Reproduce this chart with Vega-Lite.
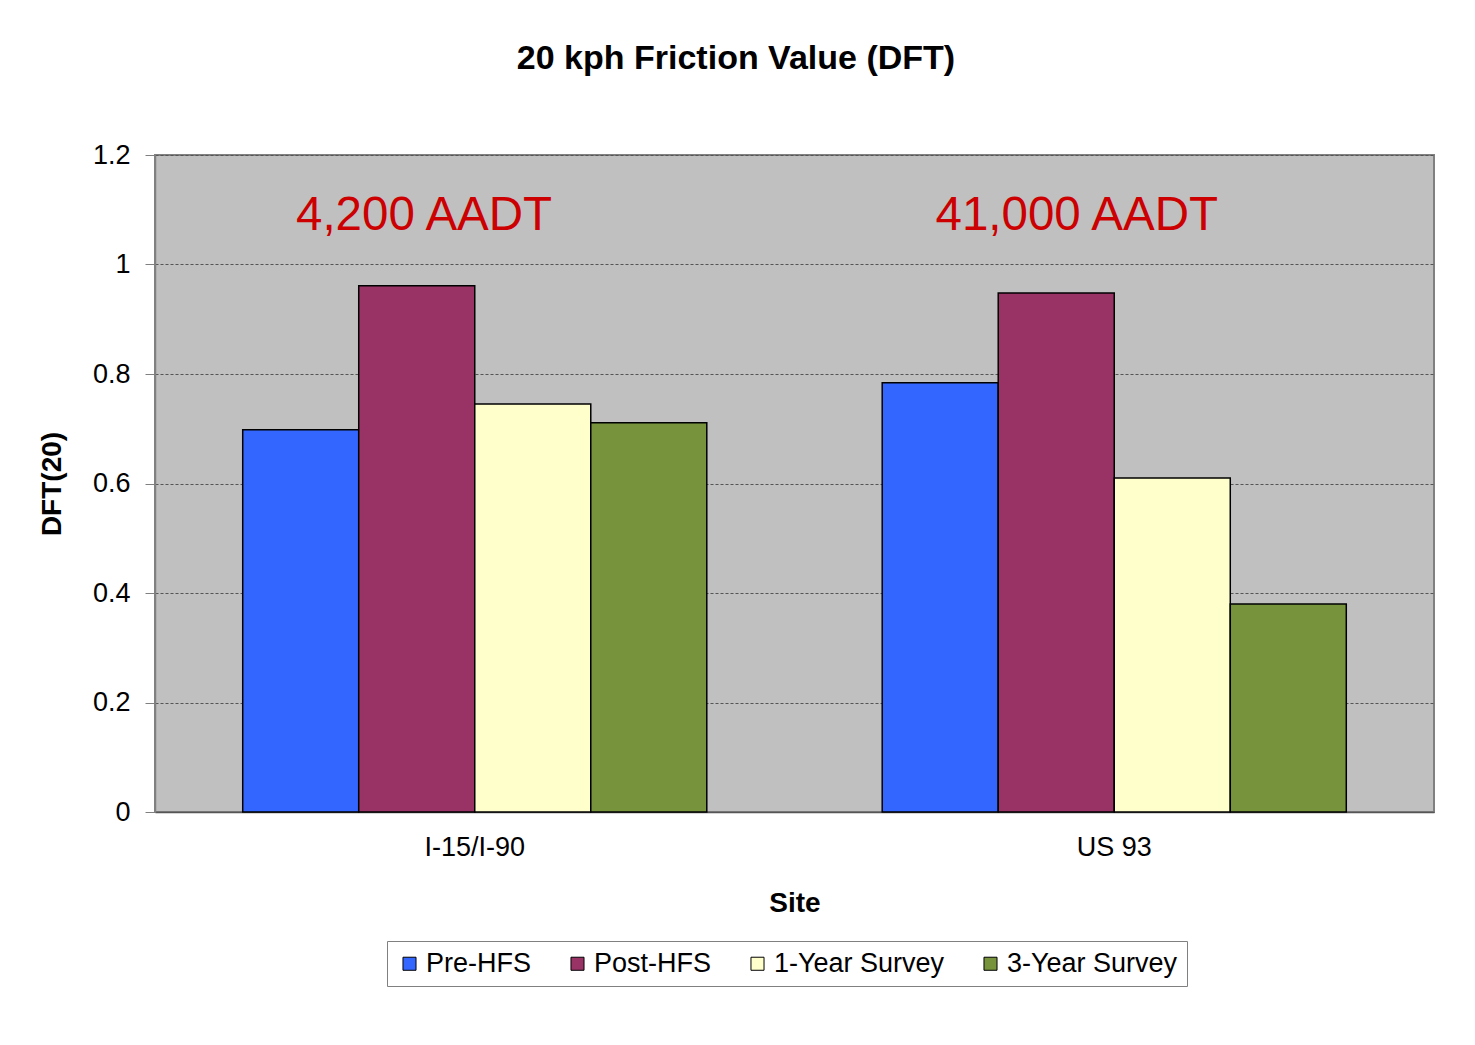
{
  "$schema": "https://vega.github.io/schema/vega-lite/v6.json",
  "width": 1279,
  "height": 657,
  "autosize": "none",
  "padding": {"left": 155, "top": 155, "right": 41, "bottom": 233},
  "background": "#FFFFFF",
  "title": {
    "text": "20 kph Friction Value (DFT)",
    "fontSize": 34,
    "fontWeight": "bold",
    "font": "Liberation Sans",
    "color": "#000000",
    "anchor": "middle",
    "frame": "bounds",
    "offset": 65
  },
  "config": {
    "font": "Liberation Sans",
    "view": {"fill": "#C0C0C0", "stroke": "#808080", "strokeWidth": 2}
  },
  "layer": [
    {
      "data": {
        "values": [
          {"Site": "I-15/I-90", "Survey": "Pre-HFS", "DFT": 0.698},
          {"Site": "I-15/I-90", "Survey": "Post-HFS", "DFT": 0.961},
          {"Site": "I-15/I-90", "Survey": "1-Year Survey", "DFT": 0.745},
          {"Site": "I-15/I-90", "Survey": "3-Year Survey", "DFT": 0.711},
          {"Site": "US 93", "Survey": "Pre-HFS", "DFT": 0.784},
          {"Site": "US 93", "Survey": "Post-HFS", "DFT": 0.948},
          {"Site": "US 93", "Survey": "1-Year Survey", "DFT": 0.61},
          {"Site": "US 93", "Survey": "3-Year Survey", "DFT": 0.38}
        ]
      },
      "mark": {"type": "bar", "stroke": "#000000", "strokeWidth": 1.5},
      "encoding": {
        "x": {
          "field": "Site",
          "type": "nominal",
          "sort": ["I-15/I-90", "US 93"],
          "scale": {"paddingInner": 0, "paddingOuter": 0},
          "axis": {
            "title": "Site",
            "titleFontSize": 28,
            "titleFontWeight": "bold",
            "titleColor": "#000000",
            "titleY": 91,
            "titleBaseline": "middle",
            "labelFontSize": 27,
            "labelColor": "#000000",
            "labelAngle": 0,
            "labelPadding": 22,
            "ticks": false,
            "tickSize": 0,
            "domainColor": "#555555",
            "domainWidth": 1.5
          }
        },
        "xOffset": {
          "field": "Survey",
          "type": "nominal",
          "sort": ["Pre-HFS", "Post-HFS", "1-Year Survey", "3-Year Survey"],
          "scale": {"paddingInner": 0, "paddingOuter": 0.756}
        },
        "y": {
          "field": "DFT",
          "type": "quantitative",
          "scale": {"domain": [0, 1.2], "nice": false},
          "axis": {
            "title": "DFT(20)",
            "titleFontSize": 28,
            "titleFontWeight": "bold",
            "titleColor": "#000000",
            "titleX": -103,
            "titleY": 328.5,
            "titleAngle": -90,
            "titleBaseline": "middle",
            "titleAlign": "center",
            "values": [0, 0.2, 0.4, 0.6, 0.8, 1, 1.2],
            "format": ".1~f",
            "labelFontSize": 27,
            "labelColor": "#000000",
            "labelPadding": 15,
            "tickSize": 10,
            "tickColor": "#808080",
            "domainColor": "#808080",
            "domainWidth": 1.5,
            "grid": true,
            "gridColor": "#555555",
            "gridDash": [3, 2],
            "gridWidth": 1
          }
        },
        "color": {
          "field": "Survey",
          "type": "nominal",
          "sort": ["Pre-HFS", "Post-HFS", "1-Year Survey", "3-Year Survey"],
          "scale": {
            "domain": ["Pre-HFS", "Post-HFS", "1-Year Survey", "3-Year Survey"],
            "range": ["#3366FF", "#993366", "#FFFFCC", "#77933C"]
          },
          "legend": {
            "title": null,
            "orient": "none",
            "direction": "horizontal",
            "legendX": 232,
            "legendY": 786,
            "symbolType": "square",
            "symbolSize": 170,
            "symbolStrokeColor": "#000000",
            "symbolStrokeWidth": 1,
            "symbolOpacity": 1,
            "labelFontSize": 27,
            "labelColor": "#000000",
            "labelOffset": 3,
            "labelLimit": 400,
            "columnPadding": 32,
            "padding": 9,
            "strokeColor": "#808080",
            "fillColor": "#FFFFFF"
          }
        }
      }
    },
    {
      "data": {
        "values": [
          {"Site": "I-15/I-90", "label": "4,200 AADT", "ypos": 1.063},
          {"Site": "US 93", "label": "41,000 AADT", "ypos": 1.063}
        ]
      },
      "mark": {
        "type": "text",
        "align": "left",
        "baseline": "alphabetic",
        "dx": 141,
        "fontSize": 47.5,
        "color": "#CC0000"
      },
      "encoding": {
        "x": {"field": "Site", "type": "nominal", "bandPosition": 0},
        "y": {"field": "ypos", "type": "quantitative"},
        "text": {"field": "label"}
      }
    }
  ]
}
